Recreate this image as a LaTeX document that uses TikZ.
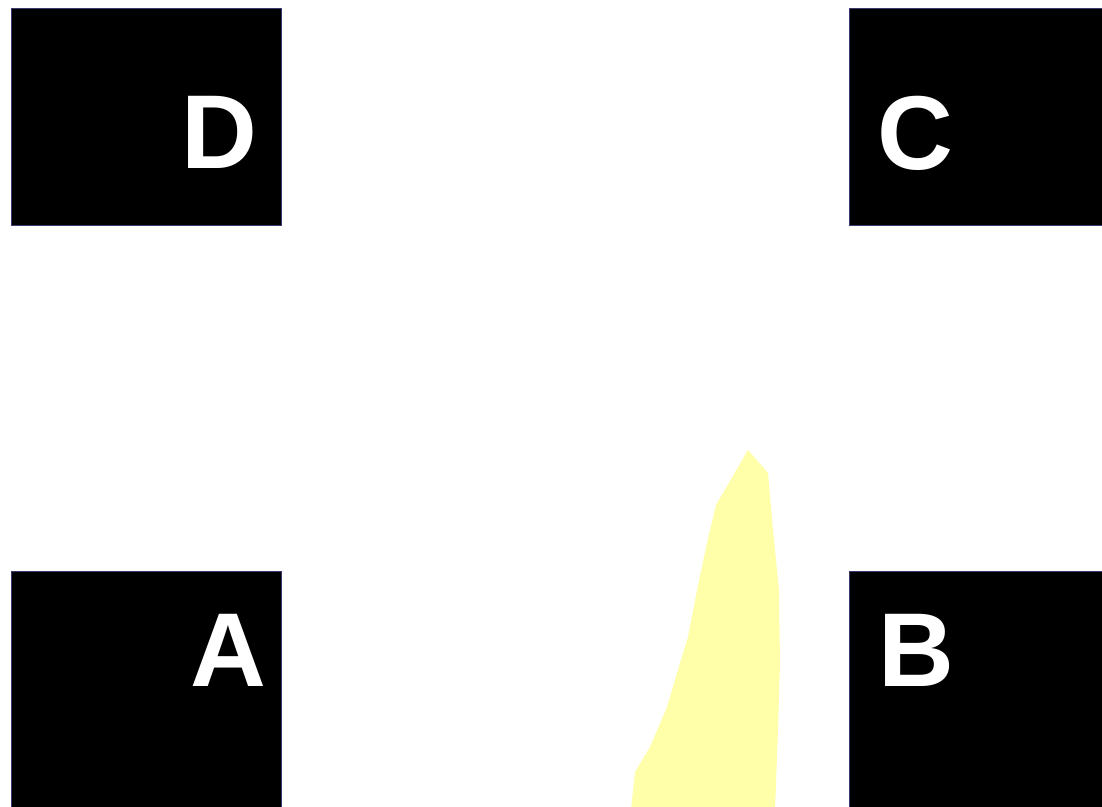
\documentclass[tikz,border=0pt]{standalone}
\usepackage{fontspec}
\setmainfont{Liberation Sans}
\definecolor{paleyellow}{HTML}{FFFFAA}
\definecolor{edgeblue}{HTML}{3A3A70}
\begin{document}
\begin{tikzpicture}[x=1pt,y=-1pt,
  roombox/.style={fill=black,draw=edgeblue,line width=0.6pt,inner sep=0pt,outer sep=0pt},
  letter/.style={text=white,inner sep=0pt,font=\fontsize{105}{105}\selectfont\bfseries}]
\useasboundingbox (0,0) rectangle (1102,806);
\fill[white] (0,0) rectangle (1102,806);
% boxes
\node[roombox,minimum width=270pt,minimum height=217pt] (boxD) at (146,116.5) {};
\node[roombox,minimum width=260pt,minimum height=217pt] (boxC) at (979,116.5) {};
\node[roombox,minimum width=270pt,minimum height=240pt] (boxA) at (146,691) {};
\node[roombox,minimum width=260pt,minimum height=240pt] (boxB) at (979,691) {};
% yellow shape
\fill[paleyellow] (748,450) -- (768,473) -- (773,530) -- (779,590) -- (780,663) -- (778,730) -- (775,810)
  -- (631,810) -- (635,772) -- (650,747) -- (667,707) -- (680,663) -- (688,637) -- (697,590)
  -- (707,543) -- (716,505) -- cycle;
% labels
\node[letter] (lD) at (219,132.5) {D};
\node[letter] (lC) at (915,133.5) {C};
\node[letter] (lA) at (228,650.5) {A};
\node[letter] (lB) at (916,650.5) {B};
\end{tikzpicture}
\end{document}
